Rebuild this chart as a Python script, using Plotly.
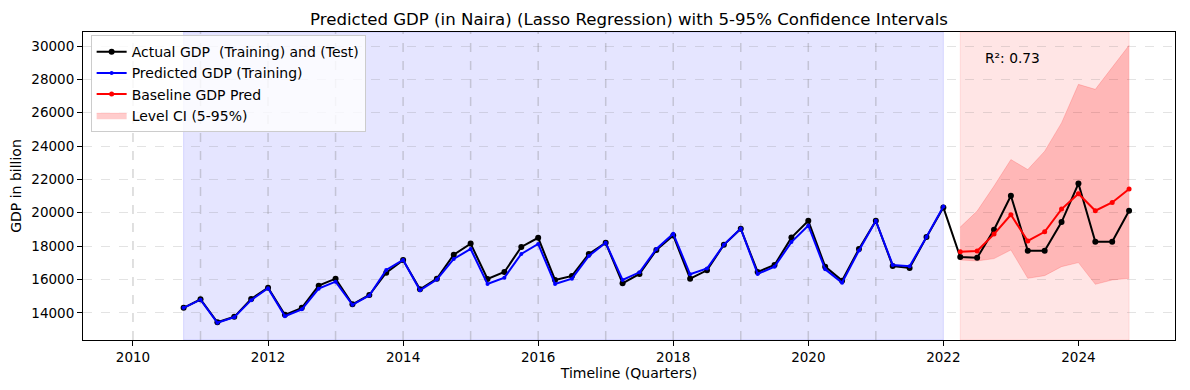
import plotly.graph_objects as go

# ---------------- data ----------------
train_start = "2010Q4"
test_start = "2022Q2"

actual_train = [14300, 14810, 13430, 13760, 14830, 15510, 13880, 14300, 15630, 16050,
                14510, 15070, 16410, 17160, 15410, 16050, 17480, 18150, 16030, 16450,
                17950, 18500, 15970, 16210, 17530, 18200, 15770, 16330, 17760, 18640,
                16050, 16550, 18080, 19040, 16450, 16870, 18510, 19520, 16770, 15930,
                17830, 19520, 16810, 16690, 18540, 20320]
pred_train = [14300, 14790, 13400, 13740, 14760, 15480, 13800, 14210, 15450, 15870,
              14480, 15040, 16570, 17170, 15350, 16000, 17230, 17830, 15730, 16110,
              17530, 18130, 15730, 16050, 17410, 18200, 15970, 16430, 17830, 18740,
              16310, 16660, 18080, 19050, 16330, 16770, 18240, 19240, 16610, 15810,
              17740, 19520, 16870, 16790, 18540, 20380]
actual_test = [17340, 17300, 18980, 21020, 17720, 17720, 19440, 21750, 18260, 18260, 20120]
baseline_pred = [17660, 17710, 18720, 19880, 18310, 18860, 20220, 21140, 20120, 20620, 21420]
ci_upper = [19140, 20100, 21600, 23190, 22590, 23690, 25390, 27700, 27400, 28700, 30040]
ci_lower = [17170, 17110, 17250, 17770, 16070, 16230, 16770, 17010, 15710, 15970, 16070]
year_lines = list(range(2010, 2022))
r2_value = 0.73
x_ticks = list(range(2010, 2025, 2))
y_ticks = list(range(14000, 30001, 2000))


def q_to_num(q, offset=0):
    y, n = int(q[:4]), int(q[-1])
    return y + (n - 1) / 4 + offset / 4


x_train = [q_to_num(train_start, i) for i in range(len(actual_train))]
x_test = [q_to_num(test_start, i) for i in range(len(actual_test))]
x_all = x_train + x_test
actual_all = actual_train + actual_test

# ---------------- figure ----------------
# page body has an 8px margin, so the figure is sized/offset to compensate
W, H = 1182, 382
fig = go.Figure()

font = "DejaVu Sans, Verdana, sans-serif"

# shaded regions
fig.add_vrect(x0=x_train[0], x1=x_train[-1], fillcolor="rgba(0,0,255,0.1)",
              line=dict(color="rgba(0,0,255,0.12)", width=1), layer="below")
fig.add_vrect(x0=x_test[0], x1=x_test[-1], fillcolor="rgba(255,0,0,0.1)",
              line=dict(color="rgba(255,0,0,0.1)", width=1), layer="below")

# year lines
for yr in year_lines:
    fig.add_vline(x=yr, line=dict(color="rgba(128,128,128,0.32)", width=1.5, dash="dash"),
                  layer="below")

# CI band
fig.add_trace(go.Scatter(x=x_test, y=ci_lower, mode="lines",
                         line=dict(color="rgba(255,0,0,0.2)", width=0.8),
                         showlegend=False, hoverinfo="skip"))
fig.add_trace(go.Scatter(x=x_test, y=ci_upper, mode="lines", fill="tonexty",
                         fillcolor="rgba(255,0,0,0.2)",
                         line=dict(color="rgba(255,0,0,0.2)", width=0.8),
                         name="Level CI (5-95%)", legendrank=4))

fig.add_trace(go.Scatter(x=x_all, y=actual_all, mode="lines+markers",
                         line=dict(color="black", width=2),
                         marker=dict(color="black", size=6),
                         name="Actual GDP  (Training) and (Test)", legendrank=1))
fig.add_trace(go.Scatter(x=x_train, y=pred_train, mode="lines+markers",
                         line=dict(color="blue", width=2),
                         marker=dict(color="blue", size=4),
                         name="Predicted GDP (Training)", legendrank=2))
fig.add_trace(go.Scatter(x=x_test, y=baseline_pred, mode="lines+markers",
                         line=dict(color="red", width=2),
                         marker=dict(color="red", size=5),
                         name="Baseline GDP Pred", legendrank=3))

fig.add_annotation(x=2022.58, y=29300, text=f"R²: {r2_value}", showarrow=False,
                   xanchor="left", yanchor="middle",
                   font=dict(size=13.8, color="black", family=font))

fig.update_layout(
    width=W, height=H,
    margin=dict(l=75, r=15, t=24, b=50),
    paper_bgcolor="white", plot_bgcolor="white",
    font=dict(family=font, size=13.5, color="black"),
    title=dict(text="Predicted GDP (in Naira) (Lasso Regression) with 5-95% Confidence Intervals",
               x=(75 + (W - 15)) / 2 / W, xanchor="center", y=1 - 11 / H, yanchor="middle",
               font=dict(size=16.6, family=font, color="black")),
    showlegend=True,
    legend=dict(x=0.007, y=0.99, xanchor="left", yanchor="top",
                bgcolor="rgba(255,255,255,0.8)", bordercolor="rgba(204,204,204,1)",
                borderwidth=1, font=dict(size=14, family=font),
                traceorder="normal", tracegroupgap=0, itemwidth=30),
    xaxis=dict(range=[2009.26, 2025.43], tickmode="array", tickvals=x_ticks,
               ticktext=[str(t) for t in x_ticks], showgrid=False, zeroline=False,
               showline=True, linecolor="black", linewidth=1, mirror=True,
               ticks="outside", ticklen=5, tickcolor="black", automargin=False,
               tickfont=dict(size=13.5),
               title=dict(text="Timeline (Quarters)", font=dict(size=14), standoff=3)),
    yaxis=dict(range=[12370, 30840], tickmode="array", tickvals=y_ticks,
               ticktext=[str(t) for t in y_ticks], showgrid=True,
               gridcolor="rgba(128,128,128,0.22)", griddash="dash", gridwidth=0.8,
               zeroline=False, showline=True, linecolor="black", linewidth=1, mirror=True,
               ticks="outside", ticklen=5, tickcolor="black", automargin=False,
               tickfont=dict(size=13.5),
               title=dict(text="GDP in billion", font=dict(size=14), standoff=9)),
)

fig.write_html("out.html")
